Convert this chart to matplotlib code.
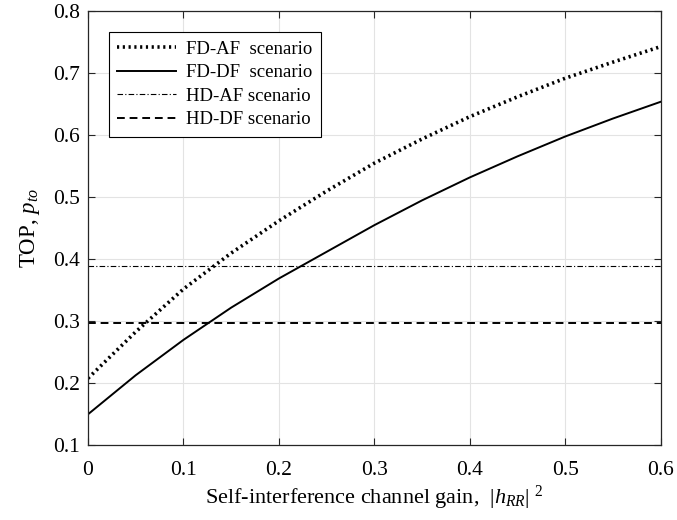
import matplotlib
matplotlib.use("Agg")
import matplotlib.pyplot as plt

# === Data ===
gain = [0.0, 0.05, 0.1, 0.15, 0.2, 0.25, 0.3, 0.35, 0.4, 0.45, 0.5, 0.55, 0.6]
fd_af = [0.208, 0.283, 0.352, 0.410, 0.462, 0.510, 0.555, 0.594, 0.630, 0.662, 0.692, 0.718, 0.743]
fd_df = [0.150, 0.213, 0.270, 0.322, 0.369, 0.412, 0.455, 0.495, 0.532, 0.566, 0.598, 0.627, 0.654]
hd_af = 0.389
hd_df = 0.297

labels = ["FD-AF  scenario", "FD-DF  scenario", "HD-AF scenario", "HD-DF scenario"]
xticks = [0, 0.1, 0.2, 0.3, 0.4, 0.5, 0.6]
yticks = [0.1, 0.2, 0.3, 0.4, 0.5, 0.6, 0.7, 0.8]

# === Style ===
plt.rcParams['font.family'] = ['Liberation Serif', 'DejaVu Serif']
plt.rcParams['mathtext.fontset'] = 'custom'
plt.rcParams['mathtext.rm'] = 'Liberation Serif'
plt.rcParams['mathtext.it'] = 'Liberation Serif:italic'
plt.rcParams['mathtext.bf'] = 'Liberation Serif:bold'

axcol = '#262626'

fig = plt.figure(figsize=(6.77, 5.2), dpi=100)
ax = fig.add_axes([0.13, 0.1437, 0.8458, 0.8346])

ax.plot(gain, fd_af, color='black', linestyle=(0, (0.6, 1.0)), linewidth=2.6, label=labels[0])
ax.plot(gain, fd_df, color='black', linestyle='-', linewidth=1.4, label=labels[1])
ax.axhline(hd_af, color='black', linestyle=(0, (5, 2, 1, 2)), linewidth=0.8, label=labels[2])
ax.axhline(hd_df, color='black', linestyle=(0, (4, 2.5)), linewidth=1.4, label=labels[3])

ax.set_xlim(0, 0.6)
ax.set_ylim(0.1, 0.8)
ax.set_xticks(xticks)
ax.set_xticklabels(['0', '0.1', '0.2', '0.3', '0.4', '0.5', '0.6'])
ax.set_yticks(yticks)
ax.set_yticklabels(['%.1f' % v for v in yticks])

ax.grid(True, color='#e3e3e3', linewidth=0.8)
ax.set_axisbelow(True)
ax.tick_params(direction='in', top=True, right=True, length=5, width=0.8,
               colors=axcol, labelsize=15.5, labelcolor='black')
ax.tick_params(axis='x', pad=11)
ax.tick_params(axis='y', pad=6)
for s in ax.spines.values():
  s.set_color(axcol)
  s.set_linewidth(0.9)

ax.set_xlabel(r"Self-interference channel gain,  $|h_{RR}|^{\;\,2}$", fontsize=16, labelpad=3)
ax.set_ylabel(r"TOP, $p_{to}$", fontsize=16.5, labelpad=8)

leg = ax.legend(loc='upper left', bbox_to_anchor=(0.0366, 0.952), fontsize=13.5,
                handlelength=3.15, handletextpad=0.5, borderpad=0.45, labelspacing=0.34,
                borderaxespad=0, fancybox=False, framealpha=1, edgecolor='black')
leg.get_frame().set_linewidth(0.8)

fig.savefig('out.png', dpi=100)
